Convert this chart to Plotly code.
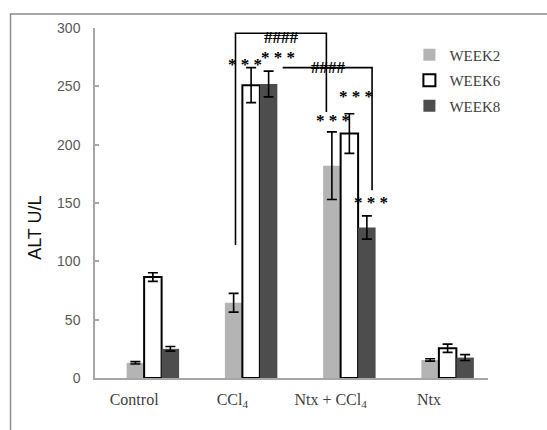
import plotly.graph_objects as go

categories = ["Control", "CCl4", "Ntx + CCl4", "Ntx"]
tick_text = ["Control", "CCl<sub>4</sub>", "Ntx + CCl<sub>4</sub>", "Ntx"]

week2 = [13, 64.5, 182, 15.5]
week2_err = [1, 8, 29, 1]
week6 = [86.5, 251, 209.5, 25.5]
week6_err = [3.7, 15, 17, 3.5]
week8 = [25, 252, 129, 17.5]
week8_err = [2, 11, 10, 2.5]

series_names = ["WEEK2", "WEEK6", "WEEK8"]

# significance marks: (text, x category index, y value)
sig_text = ["* * *", "* * *", "####", "####", "* * *", "* * *", "* * *"]
sig_x = [1.03, 1.36, 1.40, 1.88, 1.92, 2.16, 2.31]
sig_y = [271, 277, 292, 266, 223, 244, 153]
sig_shift = [-3, -3, 0, 0, -3, -3, -3]

# brackets (category index, value)
bracket1_x = [0.93, 0.93, 1.855, 1.855]
bracket1_y = [114, 295.5, 295.5, 228]
bracket2_x = [1.41, 2.32, 2.32]
bracket2_y = [266, 266, 161]

W = 0.178
fig = go.Figure()
styles = [
    dict(color="#b4b4b4", line=dict(width=0)),
    dict(color="#ffffff", line=dict(color="#000000", width=2)),
    dict(color="#4d4d4d", line=dict(width=0)),
]
for i, (name, vals, errs) in enumerate(zip(series_names, [week2, week6, week8],
                                            [week2_err, week6_err, week8_err])):
    fig.add_trace(go.Bar(
        x=categories, y=vals, name=name,
        width=W, offset=-W + i * W,
        marker=styles[i],
        error_y=dict(type="data", array=errs, visible=True, color="#000000",
                     thickness=1.6, width=5),
        legendgroup=name,
    ))

def path_from(xs, ys):
    return "M " + " L ".join(f"{x},{y}" for x, y in zip(xs, ys))

shapes = [
    dict(type="path", xref="x", yref="y", path=path_from(bracket1_x, bracket1_y),
         line=dict(color="#000000", width=1.6)),
    dict(type="path", xref="x", yref="y", path=path_from(bracket2_x, bracket2_y),
         line=dict(color="#000000", width=1.6)),
    # outer frame
    dict(type="rect", xref="paper", yref="paper", x0=-0.215, x1=1.2, y0=-0.2, y1=1.04,
         line=dict(color="#8c8c8c", width=1.5), layer="below"),
]

annotations = [
    dict(text=t, x=x, y=y, xref="x", yref="y", showarrow=False, yshift=s,
         font=dict(family="Liberation Serif", size=17, color="#000000", weight="bold"),
         xanchor="center", yanchor="middle")
    for t, x, y, s in zip(sig_text, sig_x, sig_y, sig_shift)
]
annotations.append(dict(
    text="ALT U/L", x=-0.153, y=0.4286, xref="paper", yref="paper",
    showarrow=False, textangle=-90, xanchor="center", yanchor="middle",
    font=dict(family="Liberation Sans", size=18, color="#111111"),
))

fig.update_layout(
    width=547, height=430,
    margin=dict(l=95, r=59, t=28, b=52),
    paper_bgcolor="white", plot_bgcolor="white",
    barmode="overlay",
    showlegend=True,
    legend=dict(x=0.80, y=0.97, xanchor="left", yanchor="top",
                font=dict(family="Liberation Serif", size=15, color="#404040"),
                tracegroupgap=3, bgcolor="rgba(0,0,0,0)"),
    shapes=shapes,
    annotations=annotations,
    xaxis=dict(
        tickmode="array", tickvals=categories, ticktext=tick_text,
        range=[-0.5, 3.5],
        showline=True, linecolor="#a6a6a6", linewidth=1.5,
        ticks="", showgrid=False,
        tickfont=dict(family="Liberation Serif", size=16, color="#404040"),
        ticklabelshift=-10, ticklabelstandoff=6,
    ),
    yaxis=dict(
        range=[0, 300], tickvals=[0, 50, 100, 150, 200, 250, 300],
        showline=True, linecolor="#a6a6a6", linewidth=1.5,
        ticks="inside", ticklen=4, tickcolor="#a6a6a6", tickwidth=1.5,
        showgrid=False, zeroline=False,
        tickfont=dict(family="Liberation Sans", size=14, color="#595959"),
        ticklabelstandoff=10,
    ),
)

fig.write_html("out.html")
